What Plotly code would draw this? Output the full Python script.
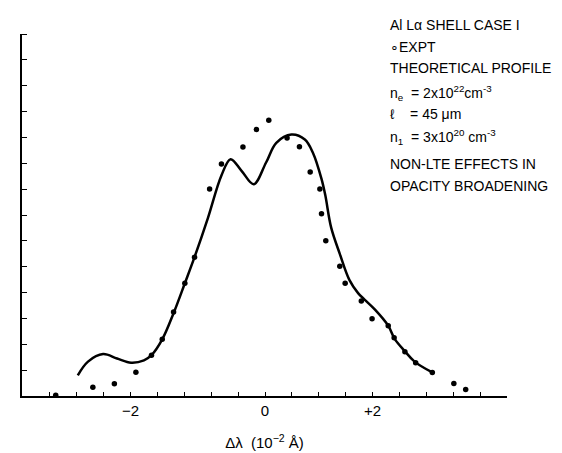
import plotly.graph_objects as go

# Experimental points (Δλ in units of the axis ticks, intensity in tick units)
expt_x = [-3.89, -3.20, -2.80, -2.40, -2.11, -1.91, -1.70, -1.49, -1.31, -1.03,
          -0.81, -0.41, -0.16, 0.07, 0.41, 0.64, 0.84, 1.02, 1.05, 1.13,
          1.39, 1.49, 1.79, 1.99, 2.29, 2.40, 2.60, 2.80, 3.11, 3.51, 3.73]
expt_y = [0.03, 0.34, 0.47, 0.92, 1.58, 2.19, 3.25, 4.36, 5.37, 8.01,
          8.97, 9.63, 10.31, 10.66, 9.98, 9.64, 8.66, 8.01, 7.05, 6.00,
          5.02, 4.36, 3.67, 2.99, 2.72, 2.25, 1.71, 1.29, 0.91, 0.48, 0.25]

# Theoretical profile
theo_x = [-3.48, -3.29, -3.01, -2.75, -2.49, -2.25, -2.11, -1.91, -1.70, -1.49,
          -1.31, -1.06, -0.81, -0.64, -0.44, -0.21, 0.02, 0.21, 0.49, 0.74,
          0.89, 1.05, 1.12, 1.23, 1.39, 1.57, 1.73, 1.85, 2.04, 2.29,
          2.41, 2.60, 2.78, 3.11]
theo_y = [0.80, 1.33, 1.62, 1.45, 1.29, 1.38, 1.58, 2.19, 3.20, 4.36,
          5.37, 6.89, 8.53, 9.16, 8.72, 8.19, 9.03, 9.79, 10.11, 9.92,
          9.41, 8.40, 7.77, 6.51, 5.50, 4.48, 3.98, 3.73, 3.35, 2.72,
          2.21, 1.73, 1.33, 0.91]

x_label_vals = [-2.5, 0, 2]
x_label_text = ["\u22122", "0", "+2"]
x_minor_step = 0.5
y_minor_step = 1

legend_lines = [
    "Al L\u03b1 SHELL CASE I",
    "\u2218EXPT",
    "THEORETICAL PROFILE",
    "n<sub>e</sub> \u00a0= 2x10<sup>22</sup>cm<sup>-3</sup>",
    "\u2113 \u00a0\u00a0\u00a0= 45 \u03bcm",
    "n<sub>1</sub> \u00a0= 3x10<sup>20</sup> cm<sup>-3</sup>",
    "NON-LTE EFFECTS IN",
    "OPACITY BROADENING",
]
legend_py = [17, 39, 61, 86, 108, 131, 159, 181]

W, H = 562, 453
L, R, T, B = 14, 63, 26, 58
pw, ph = W - L - R, H - T - B

fig = go.Figure()
fig.add_trace(go.Scatter(x=theo_x, y=theo_y, mode="lines",
                         line=dict(color="black", width=2.5, shape="spline", smoothing=1.0),
                         showlegend=False, hoverinfo="skip"))
fig.add_trace(go.Scatter(x=expt_x, y=expt_y, mode="markers",
                         marker=dict(color="black", size=5.5),
                         cliponaxis=False, showlegend=False))

font_family = "Liberation Sans, Arial, sans-serif"
for txt, py in zip(legend_lines, legend_py):
    fig.add_annotation(text=txt, xref="paper", yref="paper",
                       x=(380 - L) / pw, y=(H - B - py) / ph,
                       xanchor="left", yanchor="middle", showarrow=False,
                       font=dict(family=font_family, size=14, color="black"))

fig.update_layout(
    width=W, height=H,
    margin=dict(l=L, r=R, t=T, b=B),
    paper_bgcolor="white", plot_bgcolor="white",
    font=dict(family=font_family, size=14, color="black"),
    xaxis=dict(range=[-4.517, 4.498], tickmode="array", tickvals=x_label_vals,
               ticktext=x_label_text, ticks="inside", ticklen=4, tickwidth=1.3,
               tickcolor="black", showgrid=False, zeroline=False,
               minor=dict(tickmode="linear", tick0=-4, dtick=x_minor_step,
                          ticks="inside", ticklen=4, tickwidth=1.3,
                          tickcolor="black", showgrid=False),
               showline=True, linecolor="black", linewidth=1.8,
               title=dict(text="\u0394\u03bb \u00a0(10<sup>\u22122</sup> \u00c5)", standoff=20,
                          font=dict(size=15)),
               tickfont=dict(size=15)),
    yaxis=dict(range=[0, 14], tickmode="array", tickvals=[],
               showticklabels=False, showgrid=False, zeroline=False,
               minor=dict(tickmode="linear", tick0=0, dtick=y_minor_step,
                          ticks="inside", ticklen=5, tickwidth=1.3,
                          tickcolor="black", showgrid=False),
               showline=True, linecolor="black", linewidth=2),
)

fig.write_html("out.html")
